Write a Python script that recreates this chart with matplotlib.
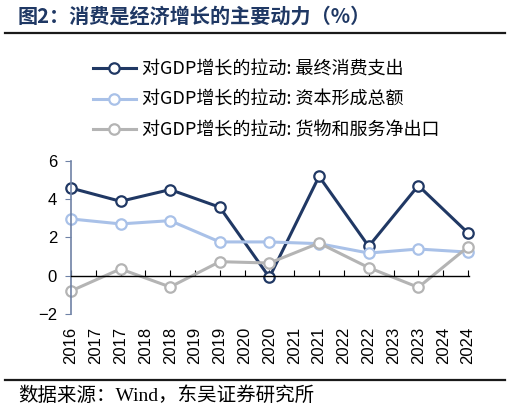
import matplotlib
matplotlib.use("Agg")
import matplotlib.pyplot as plt
import numpy as np

plt.rcParams['font.family'] = ['Liberation Sans', 'Noto Sans CJK SC', 'DejaVu Sans']
plt.rcParams['axes.unicode_minus'] = True

# data (contribution to GDP growth, %)
years = ["2016", "2017", "2018", "2019", "2020", "2021", "2022", "2023", "2024"]
tick_labels = ["2016", "2017", "2017", "2018", "2018", "2019", "2019", "2020", "2020",
               "2021", "2021", "2022", "2022", "2023", "2023", "2024", "2024"]
consumption = [4.57, 3.88, 4.49, 3.57, -0.09, 5.18, 1.53, 4.70, 2.23]
capital = [2.96, 2.70, 2.87, 1.76, 1.76, 1.67, 1.18, 1.39, 1.23]
net_export = [-0.80, 0.35, -0.59, 0.73, 0.66, 1.70, 0.42, -0.61, 1.50]

names = ["对GDP增长的拉动: 最终消费支出", "对GDP增长的拉动: 资本形成总额", "对GDP增长的拉动: 货物和服务净出口"]
colors = ["#203864", "#a9c1e8", "#b4b4b4"]

fig = plt.figure(figsize=(5.10, 4.13), dpi=100)
ax = fig.add_axes([0.139, 0.2397, 0.781, 0.3713])

xs = np.arange(len(years)) * 2
for vals, name, c in zip([consumption, capital, net_export], names, colors):
    ax.plot(xs, vals, color=c, lw=2.2, marker='o', markersize=7.5,
            markerfacecolor='white', markeredgecolor=c, markeredgewidth=1.6,
            label=name, clip_on=False)

ax.set_xlim(0, 16.05)
ax.set_ylim(-2, 6)
ax.set_yticks([-2, 0, 2, 4, 6])
ax.set_xticks(np.arange(len(tick_labels)))
ax.set_xticklabels(tick_labels)

ax.spines['top'].set_visible(False)
ax.spines['right'].set_visible(False)
ax.spines['left'].set_color('#6f82a6')
ax.spines['left'].set_linewidth(1.2)
ax.spines['bottom'].set_position(('data', 0))
ax.spines['bottom'].set_color('black')
ax.spines['bottom'].set_linewidth(1.0)
ax.tick_params(axis='y', direction='out', length=4, color='#6f82a6', labelsize=12, pad=6)
ax.tick_params(axis='x', direction='in', length=4, color='black', pad=37,
               labelrotation=90, labelsize=12)

leg = fig.legend(loc='upper left', bbox_to_anchor=(0.15, 0.893), frameon=False,
                 handlelength=2.4, handletextpad=0.35, labelspacing=0.7,
                 prop={'family': ['Noto Sans CJK SC'], 'size': 13})

fig.text(0.035, 0.962, "图2：消费是经济增长的主要动力（%）", fontsize=14.5, fontweight='bold',
         color='#1f3864', family=['Noto Sans CJK SC'], va='center', ha='left')
fig.add_artist(plt.Line2D([0.01, 0.99], [0.920, 0.920], color='#1a1a1a', lw=1.6))
fig.add_artist(plt.Line2D([0.01, 0.99], [0.080, 0.080], color='#1a1a1a', lw=1.6))
fig.text(0.035, 0.043, "数据来源：Wind，东吴证券研究所", fontsize=14,
         family=['Liberation Serif', 'Noto Sans CJK SC'], va='center', ha='left')

fig.savefig("out.png", dpi=100)
